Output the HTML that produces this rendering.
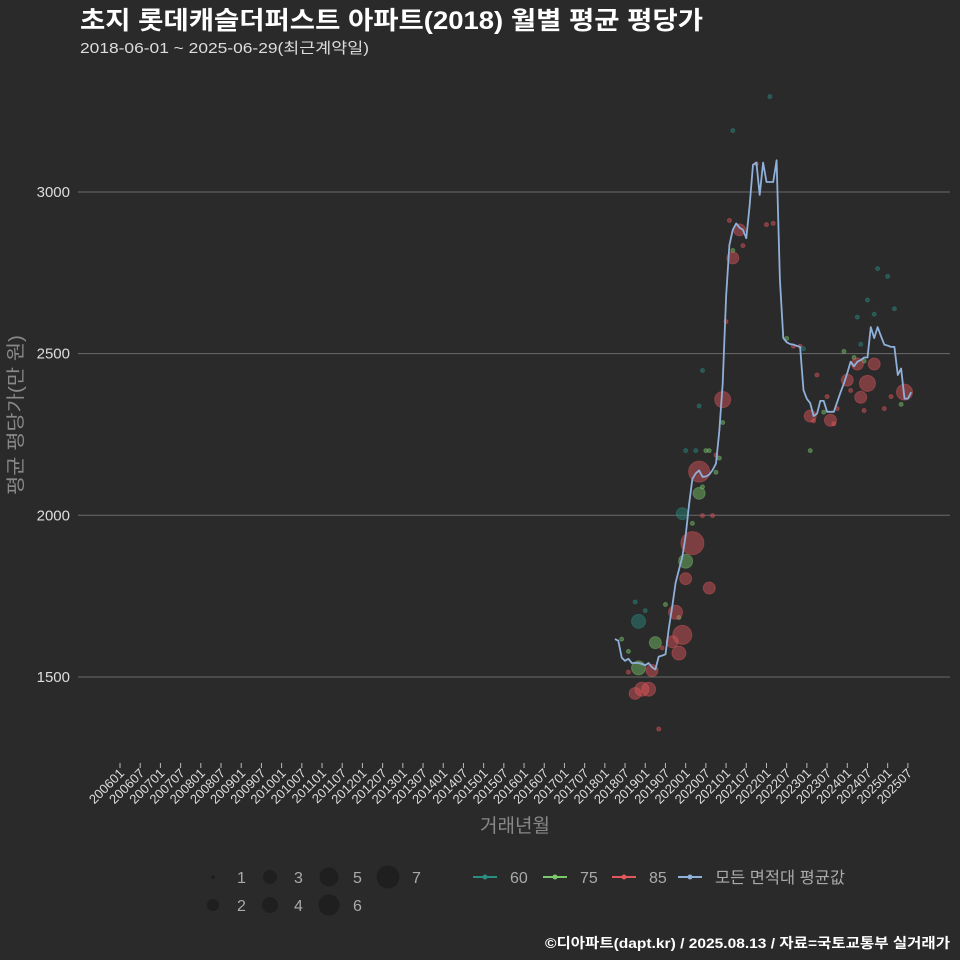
<!DOCTYPE html>
<html><head><meta charset="utf-8">
<style>
body{margin:0;background:#2b2a2b;}
svg{display:block;font-family:"Liberation Sans","Noto Sans CJK KR",sans-serif;}
</style></head>
<body>
<svg id="chart" width="960" height="960" xmlns="http://www.w3.org/2000/svg">
<rect width="960" height="960" fill="#2b2a2b"/>
<text x="80" y="29" fill="#ffffff" font-size="25" font-weight="bold" textLength="623" lengthAdjust="spacingAndGlyphs">초지 롯데캐슬더퍼스트 아파트(2018) 월별 평균 평당가</text>
<text x="80" y="53" fill="#dddddd" font-size="15" textLength="289" lengthAdjust="spacingAndGlyphs">2018-06-01 ~ 2025-06-29(최근계약일)</text>
<g id="grid"></g>
<g id="yticks"></g>
<g id="xticks"></g>
<text transform="translate(22,415) rotate(-90)" text-anchor="middle" fill="#888888" font-size="19" textLength="160" lengthAdjust="spacingAndGlyphs">평균 평당가(만 원)</text>
<text x="515" y="832" text-anchor="middle" fill="#888888" font-size="19">거래년월</text>
<g id="bubbles"></g>
<g id="line"></g>
<g id="legend"></g>
<text x="950" y="948" text-anchor="end" fill="#ffffff" font-size="14" font-weight="bold" textLength="405" lengthAdjust="spacingAndGlyphs">©디아파트(dapt.kr) / 2025.08.13 / 자료=국토교통부 실거래가</text>
</svg>
<script>
// tick labels
const yTickValues = [1500, 2000, 2500, 3000];
const xTickLabels = ["200601","200607","200701","200707","200801","200807","200901","200907","201001","201007","201101","201107","201201","201207","201301","201307","201401","201407","201501","201507","201601","201607","201701","201707","201801","201807","201901","201907","202001","202007","202101","202107","202201","202207","202301","202307","202401","202407","202501","202507"];
// average line: monthly values starting 2018-04 (months offset from start)
const lineValues = [1617,1612,1560,1550,1556,1543,1543,1543,1540,1536,1543,1530,1523,1563,1566,1570,1650,1717,1791,1831,1871,1938,2032,2113,2130,2139,2119,2120,2126,2140,2160,2260,2408,2676,2836,2883,2903,2890,2883,2857,2957,3084,3091,2991,3091,3031,3031,3031,3098,2729,2548,2535,2530,2528,2524,2521,2387,2360,2347,2307,2314,2354,2354,2320,2320,2320,2350,2380,2408,2440,2475,2461,2475,2480,2488,2488,2582,2548,2582,2555,2528,2525,2521,2521,2434,2454,2361,2361,2381];
// bubbles: 60㎡
const teal_month = [46,35,78,81,75,83,72,77,73,56,26,25,21,24,20,6,9,7];
const teal_value = [3295,3190,2763,2739,2666,2639,2613,2622,2529,2515,2448,2338,2200,2200,2005,1732,1705,1672];
const teal_count = [1,1,1,1,1,1,1,1,1,1,1,1,1,1,2,1,1,3];
// 75㎡
const green_month = [51,68,71,74,35,32,27,28,31,30,26,25,23,21,15,19,12,2,4,7,58,62,85];
const green_value = [2547,2507,2488,2477,2819,2287,2200,2200,2177,2133,2088,2068,1975,1858,1724,1684,1606,1617,1579,1528,2200,2319,2343];
const green_count = [1,1,1,1,1,1,1,1,1,1,1,2,1,3,1,1,2,1,1,3,1,1,1];
// 85㎡
const red_month = [34,42,45,47,37,38,35,33,32,30,25,23,26,29,21,28,18,20,19,17,11,4,8,6,10,13,14,53,55,60,63,66,58,59,64,65,69,70,72,77,75,73,74,80,82,86];
const red_value = [2912,3087,2899,2903,2883,2834,2796,2599,2358,2186,2135,1914,1999,1999,1804,1775,1700,1630,1574,1609,1520,1515,1462,1449,1462,1339,1590,2523,2523,2434,2367,2330,2307,2292,2294,2283,2418,2386,2468,2468,2408,2365,2324,2330,2367,2381];
const red_count = [1,1,1,1,2,1,2,1,4,1,6,7,1,1,2,2,3,5,3,2,2,1,3,2,3,1,1,1,1,1,1,1,2,1,2,1,2,1,2,2,4,2,1,1,1,4];
const legendCounts = [1,2,3,4,5,6,7];

const NS = "http://www.w3.org/2000/svg";
const START_IDX = 147; // 2018-04 months since 2006-01
function xScale(m){ return 120 + m*3.367; }
function yScale(v){ return 192 + (3000 - v)*0.3233; }
function rScale(c){ return [0,2,6,7,8,9.5,10.5,11.5][c] || 11.5; }
function mk(tag, attrs, parent){ const e=document.createElementNS(NS,tag); for(const k in attrs) e.setAttribute(k,attrs[k]); parent.appendChild(e); return e; }

const grid=document.getElementById('grid'), yt=document.getElementById('yticks');
yTickValues.forEach(v=>{
  const l=mk('line',{x1:78,x2:950,y1:yScale(v),y2:yScale(v),stroke:'#6a6a6a','stroke-width':1},grid);
  
  
  const t=mk('text',{x:70,y:yScale(v)+5,'text-anchor':'end',fill:'#dddddd','font-size':15},yt);
  t.textContent=v;
  
  
});
const xt=document.getElementById('xticks');
xTickLabels.forEach((lab,i)=>{
  const x=xScale(i*6);
  const tk=mk('line',{x1:x,x2:x,y1:763,y2:768,stroke:'#bbbbbb','stroke-width':1},xt);
  
  
  const t=mk('text',{transform:`translate(${x+5},774) rotate(-45)`,'text-anchor':'end',fill:'#dddddd','font-size':13},xt);
  t.textContent=lab;
  
  
});

const bg=document.getElementById('bubbles');
function drawBubbles(months, values, counts, color, name){
  months.forEach((m,i)=>{
    const c=mk('circle',{cx:xScale(START_IDX+m),cy:yScale(values[i]),r:rScale(counts[i]),fill:color,'fill-opacity':0.45,stroke:color,'stroke-opacity':0.4},bg);
    
    
  });
}
drawBubbles(teal_month,teal_value,teal_count,'#2a8c82','bubble-60');
drawBubbles(green_month,green_value,green_count,'#7bc86c','bubble-75');
drawBubbles(red_month,red_value,red_count,'#e0575c','bubble-85');

const lg=document.getElementById('line');
const pts=lineValues.map((v,i)=>xScale(START_IDX+i).toFixed(1)+','+yScale(v).toFixed(1)).join(' ');
const pl=mk('polyline',{points:pts,fill:'none',stroke:'#8fb0d8','stroke-width':1.8,'stroke-linejoin':'round'},lg);



const leg=document.getElementById('legend');
const lpos=[[213,877],[213,905],[270,877],[270,905],[329,877],[329,905],[388,877]];
legendCounts.forEach((c,i)=>{
  const [x,y]=lpos[i];
  const ci=mk('circle',{cx:x,cy:y,r:rScale(c),fill:'#1f1f1f'},leg);
  
  
  const t=mk('text',{x:x+24,y:y+6,fill:'#aaaaaa','font-size':16},leg);
  t.textContent=c;
  
  
});
const colorLeg=[['60','#2a8c82',473,0],['75','#7bc86c',543,0],['85','#e0575c',612,0],['모든 면적대 평균값','#8fb0d8',678,130]];
colorLeg.forEach(([lab,col,x,w])=>{
  const l=mk('line',{x1:x,x2:x+24,y1:877,y2:877,stroke:col,'stroke-width':2},leg);
  
  
  const c=mk('circle',{cx:x+12,cy:877,r:2.5,fill:col},leg);
  
  
  const t=mk('text',{x:x+37,y:883,fill:'#aaaaaa','font-size':16},leg);
  if(w){ t.setAttribute('textLength',w); t.setAttribute('lengthAdjust','spacingAndGlyphs'); }
  t.textContent=lab;
  
  
});
</script>
</body></html>
